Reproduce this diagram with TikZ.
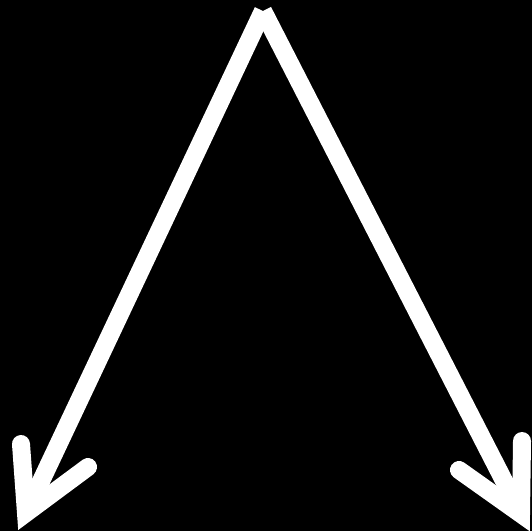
\documentclass[tikz,border=0pt]{standalone}
\begin{document}
\begin{tikzpicture}[x=1pt,y=-1pt,
  leg/.style={draw=white,line width=18pt,line cap=butt},
  head/.style={draw=white,line width=18pt,line cap=round,line join=miter}]
\fill[black] (0,0) rectangle (532,531);
\useasboundingbox (0,0) rectangle (532,531);
\coordinate (top) at (263,11);
\coordinate (tipL) at (26,513);
\coordinate (armLa) at (21,444);
\coordinate (armLb) at (88,467);
\coordinate (tipR) at (521,514);
\coordinate (armRa) at (522,441);
\coordinate (armRb) at (459,470);
\draw[leg] (top) -- (tipL);
\draw[leg] (top) -- (tipR);
\draw[head] (armLa) -- (tipL) -- (armLb);
\draw[head] (armRa) -- (tipR) -- (armRb);
\end{tikzpicture}
\end{document}
